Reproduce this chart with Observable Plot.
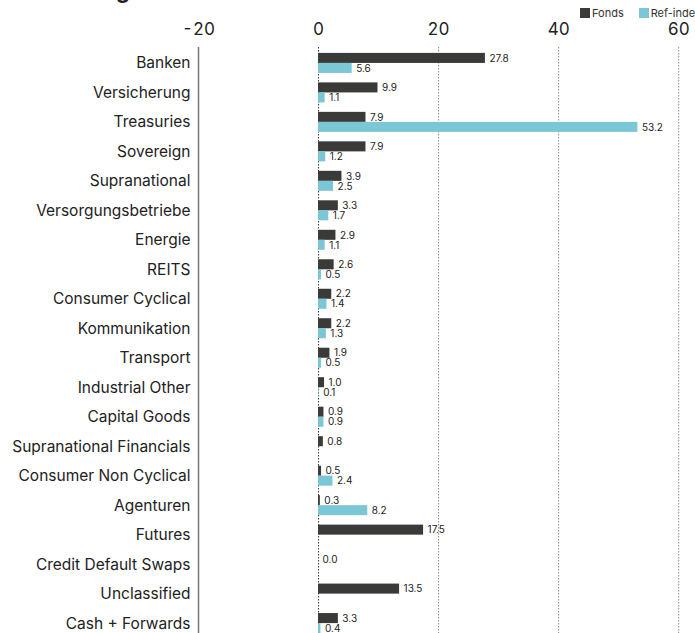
<!DOCTYPE html>
<html>
<head>
<meta charset="utf-8">
<script src="https://cdn.jsdelivr.net/npm/d3@7"></script>
<script src="https://cdn.jsdelivr.net/npm/@observablehq/plot@0.6"></script>
<style>
  html, body { margin: 0; padding: 0; background: #fff; overflow: hidden; }
  body { font-family: Inter, "Liberation Sans", Arial, sans-serif; position: relative; width: 695px; height: 633px; }
  #chart { position: absolute; left: 0; top: 0; z-index: 1; }
  #title { position: absolute; left: 0; top: -21px; font-size: 22px; line-height: 23px; font-weight: bold; color: #222; white-space: nowrap; z-index: 2; }
  #legend { position: absolute; top: 6px; left: 580px; font-size: 11px; color: #333; white-space: nowrap; display: flex; gap: 15px; z-index: 2; }
  #legend span.sw { display: inline-block; width: 10px; height: 10px; margin-right: 2px; vertical-align: -1px; }
</style>
</head>
<body>
<div id="chart"></div>
<div id="title">Gewichtung nach Sektoren (%)</div>
<div id="legend"></div>
<script>
const sectors = ["Banken","Versicherung","Treasuries","Sovereign","Supranational","Versorgungsbetriebe","Energie","REITS","Consumer Cyclical","Kommunikation","Transport","Industrial Other","Capital Goods","Supranational Financials","Consumer Non Cyclical","Agenturen","Futures","Credit Default Swaps","Unclassified","Cash + Forwards"];
const fonds    = [27.8, 9.9, 7.9, 7.9, 3.9, 3.3, 2.9, 2.6, 2.2, 2.2, 1.9, 1.0, 0.9, 0.8, 0.5, 0.3, 17.5, 0.0, 13.5, 3.3];
const refIndex = [5.6, 1.1, 53.2, 1.2, 2.5, 1.7, 1.1, 0.5, 1.4, 1.3, 0.5, 0.1, 0.9, null, 2.4, 8.2, null, null, null, 0.4];
const seriesNames = ["Fonds", "Ref-index"];
const seriesColors = ["#3a3b39", "#7cc7d6"];
const xTicks = [-20, 0, 20, 40, 60];
const gridTicks = [20, 40, 60];

const fondsData = sectors.map((s, i) => ({sector: s, value: fonds[i]})).filter(d => d.value != null);
const refData = sectors.map((s, i) => ({sector: s, value: refIndex[i]})).filter(d => d.value != null);

// legend
const legend = document.getElementById("legend");
seriesNames.forEach((n, i) => {
  const item = document.createElement("div");
  item.innerHTML = `<span class="sw" style="background:${seriesColors[i]}"></span>${n}`;
  legend.appendChild(item);
});

const fmt = d => d.value.toFixed(1);
const chart = Plot.plot({
  width: 695,
  height: 639,
  marginTop: 47,
  marginBottom: 0,
  marginLeft: 198,
  marginRight: 0,
  style: {fontFamily: "Inter, 'Liberation Sans', Arial, sans-serif", color: "#222", background: "#fff"},
  x: {domain: [-20, 62.8]},
  y: {domain: sectors, paddingInner: 0.32, paddingOuter: 0.2, round: false},
  marks: [
    Plot.ruleX(gridTicks, {stroke: "#888", strokeDasharray: "1.5,1.5", strokeWidth: 1}),
    Plot.ruleX([0], {stroke: "#333", strokeDasharray: "1.5,1.5", strokeWidth: 1}),
    Plot.ruleX([-20], {stroke: "#777", strokeWidth: 1.5}),
    Plot.barX(fondsData, {x: "value", y: "sector", fill: seriesColors[0], insetBottom: 10}),
    Plot.barX(refData, {x: "value", y: "sector", fill: seriesColors[1], insetTop: 10}),
    Plot.text(fondsData, {x: "value", y: "sector", text: fmt, dy: -5, dx: 4, textAnchor: "start", fontSize: 10, fill: "#222"}),
    Plot.text(refData, {x: "value", y: "sector", text: fmt, dy: 5, dx: 4, textAnchor: "start", fontSize: 10, fill: "#222"}),
    Plot.axisX({anchor: "top", ticks: xTicks, tickFormat: d => String(d), tickSize: 0, tickPadding: 13, fontSize: 17, label: null}),
    Plot.axisY({anchor: "left", tickSize: 0, tickPadding: 8, fontSize: 15.5, label: null})
  ]
});
document.getElementById("chart").appendChild(chart);
</script>
</body>
</html>
